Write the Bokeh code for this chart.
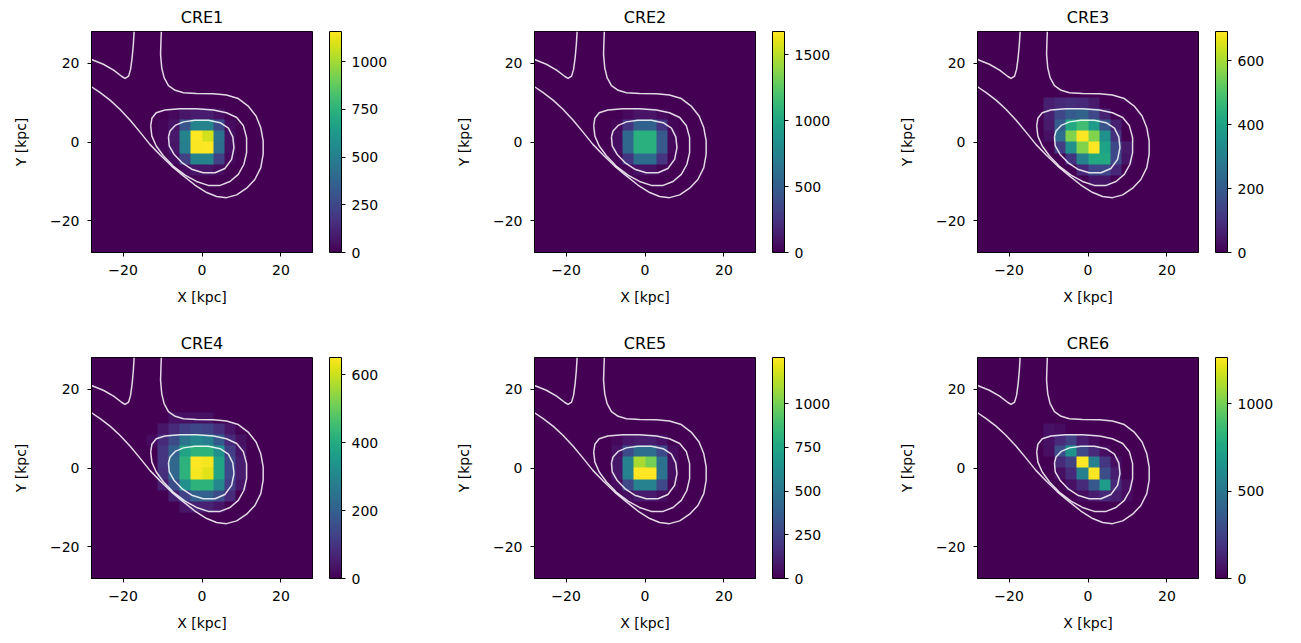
import numpy as np
from bokeh.plotting import figure
from bokeh.models import LinearColorMapper, ColorBar, FixedTicker
from bokeh.layouts import column, row
from bokeh.palettes import Viridis256
from bokeh.embed import file_html
from bokeh.resources import INLINE

# ---------------- data ----------------
titles = ["CRE1", "CRE2", "CRE3", "CRE4", "CRE5", "CRE6"]
extent = [-28.0, 28.0]          # map range in kpc (both axes)
n_bins = 20                     # 20 x 20 pixels
sub_row0 = 5                    # first stored row (counted from top)
sub_col0 = 5                    # first stored column (counted from left)
axis_ticks = [-20, 0, 20]
axis_tick_labels = {-20: "\u221220", 0: "0", 20: "20"}

# counts, rows from top (y high) to bottom; columns left to right (rows/cols 5..14)
CRE1_counts = [
    [0, 0, 0, 0, 0, 0, 0, 0, 0, 0],
    [0, 0, 0, 0, 0, 0, 0, 0, 0, 0],
    [0, 0, 30, 70, 90, 90, 50, 0, 0, 0],
    [0, 20, 60, 300, 520, 520, 260, 40, 0, 0],
    [0, 20, 80, 520, 1158, 1080, 430, 50, 0, 0],
    [0, 20, 70, 500, 1150, 1158, 420, 50, 0, 0],
    [0, 0, 40, 220, 520, 520, 230, 30, 0, 0],
    [0, 0, 0, 40, 70, 70, 40, 0, 0, 0],
    [0, 0, 0, 0, 0, 0, 0, 0, 0, 0],
    [0, 0, 0, 0, 0, 0, 0, 0, 0, 0],
]
CRE2_counts = [
    [0, 0, 0, 0, 0, 0, 0, 0, 0, 0],
    [0, 0, 0, 0, 0, 0, 0, 0, 0, 0],
    [0, 0, 0, 40, 90, 90, 40, 0, 0, 0],
    [0, 0, 40, 250, 520, 520, 250, 30, 0, 0],
    [0, 0, 60, 560, 1060, 1060, 470, 40, 0, 0],
    [0, 0, 60, 560, 1060, 1060, 470, 40, 0, 0],
    [0, 0, 30, 250, 590, 590, 250, 30, 0, 0],
    [0, 0, 0, 30, 80, 80, 30, 0, 0, 0],
    [0, 0, 0, 0, 0, 0, 0, 0, 0, 0],
    [0, 0, 0, 0, 0, 0, 0, 0, 0, 0],
]
CRE3_counts = [
    [0, 0, 0, 0, 0, 0, 0, 0, 0, 0],
    [0, 60, 80, 90, 80, 50, 0, 0, 0, 0],
    [0, 60, 150, 200, 220, 150, 60, 0, 0, 0],
    [0, 50, 200, 420, 480, 380, 180, 60, 0, 0],
    [0, 30, 250, 560, 691, 560, 350, 100, 0, 0],
    [0, 0, 120, 350, 560, 691, 400, 150, 50, 0],
    [0, 0, 0, 100, 300, 420, 420, 150, 40, 0],
    [0, 0, 0, 0, 80, 150, 150, 80, 0, 0],
    [0, 0, 0, 0, 0, 40, 40, 0, 0, 0],
    [0, 0, 0, 0, 0, 0, 0, 0, 0, 0],
]
CRE4_counts = [
    [0, 0, 30, 30, 30, 30, 0, 0, 0, 0],
    [0, 40, 80, 120, 140, 130, 90, 40, 0, 0],
    [20, 80, 150, 250, 300, 280, 180, 80, 30, 0],
    [0, 100, 200, 380, 420, 420, 330, 120, 40, 0],
    [0, 100, 220, 420, 650, 640, 380, 140, 50, 0],
    [0, 90, 220, 420, 640, 620, 380, 140, 50, 0],
    [0, 50, 150, 330, 420, 420, 300, 120, 40, 0],
    [0, 0, 60, 130, 200, 200, 150, 80, 0, 0],
    [0, 0, 0, 40, 60, 60, 40, 0, 0, 0],
    [0, 0, 0, 0, 0, 0, 0, 0, 0, 0],
]
CRE5_counts = [
    [0, 0, 0, 0, 0, 0, 0, 0, 0, 0],
    [0, 0, 0, 0, 0, 0, 0, 0, 0, 0],
    [0, 0, 30, 80, 100, 100, 60, 0, 0, 0],
    [0, 0, 60, 280, 450, 450, 280, 40, 0, 0],
    [0, 0, 80, 560, 1100, 1000, 470, 50, 0, 0],
    [0, 0, 80, 560, 1264, 1264, 470, 50, 0, 0],
    [0, 0, 40, 280, 560, 560, 280, 30, 0, 0],
    [0, 0, 0, 50, 90, 90, 50, 0, 0, 0],
    [0, 0, 0, 0, 0, 0, 0, 0, 0, 0],
    [0, 0, 0, 0, 0, 0, 0, 0, 0, 0],
]
CRE6_counts = [
    [0, 0, 0, 0, 0, 0, 0, 0, 0, 0],
    [0, 60, 40, 0, 0, 0, 0, 0, 0, 0],
    [0, 60, 150, 250, 100, 40, 0, 0, 0, 0],
    [0, 50, 300, 650, 280, 150, 50, 0, 0, 0],
    [0, 0, 150, 250, 1263, 550, 200, 50, 0, 0],
    [0, 0, 50, 150, 550, 1263, 300, 100, 0, 0],
    [0, 0, 0, 60, 150, 350, 700, 150, 50, 0],
    [0, 0, 0, 0, 40, 100, 150, 100, 40, 0],
    [0, 0, 0, 0, 0, 0, 0, 0, 0, 0],
    [0, 0, 0, 0, 0, 0, 0, 0, 0, 0],
]
all_counts = [CRE1_counts, CRE2_counts, CRE3_counts, CRE4_counts, CRE5_counts, CRE6_counts]
colorbar_max = [1158, 1675, 691, 650, 1264, 1263]
colorbar_ticks = [
    [0, 250, 500, 750, 1000],
    [0, 500, 1000, 1500],
    [0, 200, 400, 600],
    [0, 200, 400, 600],
    [0, 250, 500, 750, 1000],
    [0, 500, 1000],
]

# gas-density contours (same in every panel), kpc
contour_outer_x = [-28.0, -25.8, -23.3, -20.8, -18.2, -15.7, -13.2, -10.6, -7.7, -4.7, -1.8,
                   1.2, 3.7, 6.2, 8.8, 11.3, 13.4, 14.9, 15.5, 15.5, 14.9, 13.7, 11.7, 9.2,
                   6.2, 2.9, -1.4, -4.7, -6.8, -8.5, -9.6, -10.2, -10.5, -10.4, -10.3]
contour_outer_y = [14.0, 12.5, 10.6, 8.3, 5.5, 2.5, -0.6, -3.3, -6.1, -8.6, -10.9,
                   -12.8, -13.8, -14.1, -13.4, -11.7, -9.5, -6.5, -3.1, 0.3, 3.6, 6.6, 9.1,
                   11.0, 11.9, 12.2, 12.3, 12.5, 13.1, 14.3, 16.3, 18.8, 22.2, 25.6, 28.0]
contour_corner_x = [-28.0, -25.0, -22.4, -20.3, -19.5, -18.6, -18.1, -17.7, -17.4, -17.2]
contour_corner_y = [20.9, 19.7, 18.2, 16.6, 16.1, 16.7, 18.4, 21.4, 24.7, 28.0]
contour_mid_x = [-13.0, -12.7, -11.6, -9.4, -5.6, -1.4, 2.9, 6.2, 8.8, 10.5, 11.3, 11.3,
                 10.6, 9.2, 7.1, 4.6, 1.6, -1.4, -4.3, -7.3, -9.8, -11.6, -12.7, -13.0]
contour_mid_y = [4.1, 6.0, 7.4, 8.1, 8.4, 8.4, 8.1, 7.4, 6.2, 4.1, 1.1, -2.7,
                 -5.7, -8.2, -10.0, -11.0, -11.0, -10.0, -8.4, -6.1, -3.5, -1.0, 1.5, 4.1]
contour_inner_x = [-8.5, -8.1, -6.8, -4.7, -1.8, 1.6, 4.6, 6.7, 7.8, 8.1, 7.5, 5.8, 3.3,
                   0.3, -2.6, -5.1, -7.1, -8.3, -8.5]
contour_inner_y = [1.3, 2.8, 4.2, 5.1, 5.5, 5.5, 4.9, 3.5, 1.3, -1.4, -4.4, -6.7, -7.8,
                   -7.8, -6.9, -5.2, -3.1, -1.0, 1.3]

# ---------------- drawing ----------------
FONT = "DejaVu Sans"
FRAME = 221


def full_grid(sub):
    g = np.zeros((n_bins, n_bins))
    s = np.array(sub, dtype=float)
    g[sub_row0:sub_row0 + s.shape[0], sub_col0:sub_col0 + s.shape[1]] = s
    return np.flipud(g)  # bokeh image rows start at the bottom


def make_panel(i):
    top_row = i < 3
    col = i % 3
    left = 91 if col == 0 else 83
    right = 90 if col == 2 else 139
    p = figure(frame_width=FRAME, frame_height=FRAME,
               x_range=tuple(extent), y_range=tuple(extent),
               output_backend="svg", toolbar_location=None,
               min_border_left=left, min_border_right=right,
               min_border_top=31, min_border_bottom=(74 if top_row else 58),
               title=titles[i])
    p.title.align = "center"
    p.title.text_font = FONT
    p.title.text_font_size = "16px"
    p.title.text_font_style = "normal"
    p.title.text_color = "black"
    p.title.standoff = 10
    p.title.offset = 0

    mapper = LinearColorMapper(palette=Viridis256, low=0, high=colorbar_max[i])
    p.image(image=[full_grid(all_counts[i])], x=extent[0], y=extent[0],
            dw=extent[1] - extent[0], dh=extent[1] - extent[0], color_mapper=mapper)

    for cx, cy in [(contour_outer_x, contour_outer_y), (contour_corner_x, contour_corner_y),
                   (contour_mid_x, contour_mid_y), (contour_inner_x, contour_inner_y)]:
        p.line(cx, cy, line_color="white", line_alpha=0.85, line_width=1.5,
               line_join="round")

    p.grid.visible = False
    p.outline_line_color = "black"
    p.outline_line_width = 1
    for ax, lab, lstand in [(p.xaxis[0], "X [kpc]", 11), (p.yaxis[0], "Y [kpc]", 18)]:
        ax.ticker = FixedTicker(ticks=axis_ticks)
        ax.major_label_overrides = axis_tick_labels
        ax.axis_label = lab
        ax.axis_label_text_font = FONT
        ax.axis_label_text_font_size = "14px"
        ax.axis_label_text_font_style = "normal"
        ax.axis_label_text_color = "black"
        ax.major_label_text_font = FONT
        ax.major_label_text_font_size = "14px"
        ax.major_label_text_color = "black"
        ax.major_tick_out = 4
        ax.major_tick_in = 0
        ax.major_tick_line_color = "black"
        ax.minor_tick_line_color = None
        ax.axis_line_color = "black"
        ax.axis_label_standoff = lstand
        ax.major_label_standoff = 8

    cb = ColorBar(color_mapper=mapper, ticker=FixedTicker(ticks=colorbar_ticks[i]),
                  width=12, padding=0, margin=0, location=(17, 0),
                  major_tick_out=4, major_tick_in=0, major_tick_line_color="black",
                  major_label_text_font=FONT, major_label_text_font_size="14px",
                  major_label_text_color="black",
                  label_standoff=6, bar_line_color="black", background_fill_alpha=0)
    p.add_layout(cb, "right")
    return p


panels = [make_panel(i) for i in range(6)]
layout = column(row(*panels[:3]), row(*panels[3:]))

open("out.html", "w").write(file_html(layout, INLINE))
